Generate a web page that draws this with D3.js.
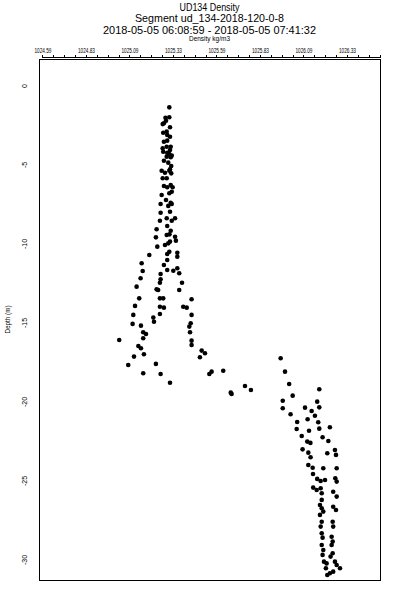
<!DOCTYPE html>
<html lang="en">
<head>
	<meta charset="utf-8">
	<title>UD134 Density</title>
	<script src="https://d3js.org/d3.v7.min.js" charset="utf-8"></script>
	<style>
		body {
			margin: 0;
			background: #fff;
			font-family: "Liberation Sans", Arial, sans-serif;
		}
	</style>
</head>
<body>
	<script>
	// chart values
	var density = [
		1025.314, 1025.314, 1025.295, 1025.283, 1025.276, 1025.318, 1025.279, 1025.299, 1025.302, 1025.318,
		1025.283, 1025.302, 1025.322, 1025.276, 1025.279, 1025.302, 1025.314, 1025.322, 1025.283, 1025.308,
		1025.325, 1025.270, 1025.289, 1025.314, 1025.325, 1025.318, 1025.276, 1025.283, 1025.302, 1025.322,
		1025.333, 1025.314, 1025.270, 1025.295, 1025.322, 1025.308, 1025.328, 1025.264, 1025.318, 1025.264,
		1025.299, 1025.328, 1025.347, 1025.260, 1025.302, 1025.241, 1025.322, 1025.299, 1025.315, 1025.237,
		1025.347, 1025.352, 1025.318, 1025.245, 1025.289, 1025.314, 1025.302, 1025.360, 1025.360, 1025.199,
		1025.302, 1025.155, 1025.283, 1025.161, 1025.302, 1025.337, 1025.360, 1025.371, 1025.264, 1025.149,
		1025.264, 1025.260, 1025.387, 1025.126, 1025.250, 1025.371, 1025.141, 1025.260, 1025.442,
		1025.299, 1025.318, 1025.328, 1025.299, 1025.299, 1025.292, 1025.328, 1025.308,
		1025.241, 1025.279, 1025.117, 1025.260, 1025.283, 1025.394, 1025.414, 1025.107, 1025.260, 1025.442,
		1025.222, 1025.226, 1025.103, 1025.151, 1025.437, 1025.429, 1025.164, 1025.180, 1025.164, 1025.433,
		1025.026, 1025.442, 1025.442, 1025.136, 1025.151, 1025.111, 1025.168, 1025.500, 1025.519, 1025.490,
		1025.078, 1025.237, 1025.164, 1025.264, 1025.318, 1025.544, 1025.557, 1025.624, 1025.954, 1025.979,
		1026.003, 1025.667, 1025.672, 1025.749, 1025.783,
		1026.176, 1026.023, 1025.966, 1026.164, 1025.966, 1026.176, 1026.094, 1026.132, 1026.151, 1026.011,
		1026.049, 1026.109, 1026.170, 1026.046, 1026.117, 1026.176, 1026.237, 1026.075, 1026.195, 1026.107,
		1026.125, 1026.228, 1026.080, 1026.113, 1026.126, 1026.222, 1026.266, 1026.272, 1026.113, 1026.138,
		1026.199, 1026.276, 1026.140, 1026.164, 1026.184, 1026.209, 1026.268, 1026.276, 1026.141, 1026.161,
		1026.184, 1026.190, 1026.256, 1026.276, 1026.190, 1026.180, 1026.190, 1026.256, 1026.272, 1026.180,
		1026.199, 1026.190, 1026.184, 1026.253, 1026.256, 1026.190, 1026.195, 1026.247, 1026.253, 1026.190,
		1026.247, 1026.199, 1026.195, 1026.253, 1026.241, 1026.203, 1026.218, 1026.266, 1026.276, 1026.214,
		1026.295, 1026.222, 1026.237, 1026.256
	];
	var depth = [
		-1.35, -1.98, -2.20, -2.36, -2.41, -2.61, -2.96, -2.89, -3.10, -3.21,
		-3.53, -3.46, -3.84, -3.94, -4.16, -4.22, -4.30, -4.51, -4.73, -4.85,
		-5.06, -5.36, -5.49, -5.36, -5.53, -5.27, -5.84, -6.33, -6.41, -6.27,
		-6.41, -6.79, -6.90, -7.22, -7.39, -7.59, -7.47, -7.47, -7.96, -8.02,
		-8.37, -8.53, -8.37, -8.53, -8.86, -9.07, -9.16, -9.43, -9.39, -9.58,
		-9.54, -9.79, -9.85, -10.17, -10.06, -10.49, -10.63, -10.55, -10.80, -10.70,
		-11.01, -11.22, -11.33, -11.71, -11.65, -11.69, -11.54, -11.85, -11.90, -12.17,
		-12.23, -12.45, -12.45, -12.70, -12.91, -12.91, -13.44, -13.44, -13.50,
		-3.84, -4.05, -4.40, -4.47, -5.84, -2.01, -6.69, -9.96,
		-12.87, -13.44, -13.92, -13.97, -14.03, -13.97, -14.03, -14.49, -14.43, -14.49,
		-14.66, -14.92, -15.06, -15.17, -15.02, -15.23, -15.59, -15.70, -15.97, -15.59,
		-16.08, -16.12, -16.39, -16.46, -16.60, -17.13, -16.98, -16.75, -16.92, -17.17,
		-17.66, -17.59, -18.18, -18.23, -18.78, -18.23, -18.08, -18.02, -17.23, -18.08,
		-18.86, -19.41, -19.49, -18.99, -19.24,
		-19.20, -19.60, -19.92, -19.98, -20.40, -20.34, -20.36, -20.57, -20.87, -20.78,
		-21.27, -21.09, -21.28, -21.71, -21.82, -21.69, -21.60, -22.15, -22.23, -22.51,
		-22.59, -22.47, -23.00, -23.21, -23.50, -23.25, -23.04, -23.35, -23.99, -24.16,
		-24.20, -24.20, -24.56, -24.87, -25.00, -24.94, -24.83, -25.04, -25.42, -25.57,
		-25.46, -25.78, -25.68, -25.99, -26.20, -26.52, -26.73, -26.63, -26.84, -27.15,
		-26.94, -27.58, -27.89, -27.58, -27.89, -28.31, -28.59, -28.53, -28.84, -29.05,
		-29.05, -29.37, -29.68, -29.58, -29.79, -30.11, -30.22, -30.11, -30.32, -30.53,
		-30.53, -30.95, -30.84, -30.74
	];

	// axis ticks
	var xMajorTicks = [1024.585, 1024.835, 1025.085, 1025.335, 1025.585, 1025.835, 1026.085, 1026.335];
	var xTickLabels = ["1024.59", "1024.83", "1025.09", "1025.33", "1025.59", "1025.83", "1026.09", "1026.33"];
	var xMinorStep = 0.0625;
	var yTicks = [0, -5, -10, -15, -20, -25, -30];

	var titleLines = ["UD134 Density", "Segment ud_134-2018-120-0-8", "2018-05-05 06:08:59 - 2018-05-05 07:41:32"];
	var xLabel = "Density kg/m3";
	var yLabel = "Depth (m)";

	var width = 400;
	var height = 600;

	var svg = d3.select("body")
		.append("svg")
		.attr("width", width)
		.attr("height", height);

	var x = d3.scaleLinear()
		.domain([1024.565, 1026.525])
		.range([39, 380]);

	var y = d3.scaleLinear()
		.domain([1.71, -31.27])
		.range([59, 580]);

	// titles
	var titleSizes = [10, 10.5, 10.5];
	var titleY = [11, 22, 33.5];
	var titleLen = [60, 149, 213];
	svg.selectAll(".title")
		.data(titleLines)
		.enter()
		.append("text")
		.attr("class", "title")
		.attr("x", (x.range()[0] + x.range()[1]) / 2)
		.attr("y", function(d, i) { return titleY[i]; })
		.attr("text-anchor", "middle")
		.attr("font-size", function(d, i) { return titleSizes[i] + "px"; })
		.attr("textLength", function(d, i) { return titleLen[i]; })
		.attr("lengthAdjust", "spacingAndGlyphs")
		.text(function(d) { return d; });

	svg.append("text")
		.attr("x", (x.range()[0] + x.range()[1]) / 2)
		.attr("y", 41)
		.attr("text-anchor", "middle")
		.attr("font-size", "7px")
		.attr("textLength", 41)
		.attr("lengthAdjust", "spacingAndGlyphs")
		.text(xLabel);

	// top axis, with minor ticks between the labelled ones
	var minorTicks = [];
	for (var v = xMajorTicks[0]; v <= x.domain()[1] + 1e-9; v += xMinorStep) {
		minorTicks.push(+v.toFixed(4));
	}

	var xAxis = d3.axisTop(x)
		.tickValues(minorTicks)
		.tickSize(3)
		.tickPadding(1.5)
		.tickFormat(function(d) {
			var k = xMajorTicks.findIndex(function(t) { return Math.abs(t - d) < 1e-6; });
			return k >= 0 ? xTickLabels[k] : "";
		});

	var gx = svg.append("g")
		.attr("transform", "translate(0,57.5)")
		.call(xAxis);
	gx.select(".domain").remove();
	gx.selectAll(".tick line").attr("stroke", "#000").attr("shape-rendering", "crispEdges");
	gx.selectAll(".tick text")
		.attr("font-family", "'Liberation Sans', Arial, sans-serif")
		.attr("font-size", "7.5px")
		.attr("fill", "#000")
		.filter(function() { return this.textContent !== ""; })
		.attr("textLength", 17)
		.attr("lengthAdjust", "spacingAndGlyphs");
	gx.append("line")
		.attr("x1", x(minorTicks[0]))
		.attr("x2", x(minorTicks[minorTicks.length - 1]))
		.attr("y1", 0)
		.attr("y2", 0)
		.attr("stroke", "#000")
		.attr("shape-rendering", "crispEdges");

	// left labels, no tick marks
	svg.selectAll(".ylab")
		.data(yTicks)
		.enter()
		.append("text")
		.attr("class", "ylab")
		.attr("transform", function(d) { return "translate(26.5," + y(d) + ") rotate(-90)"; })
		.attr("text-anchor", "middle")
		.attr("font-size", "7px")
		.text(function(d) { return d; });

	svg.append("text")
		.attr("transform", "translate(10," + ((y.range()[0] + y.range()[1]) / 2) + ") rotate(-90)")
		.attr("text-anchor", "middle")
		.attr("font-size", "6.5px")
		.attr("textLength", 28)
		.attr("lengthAdjust", "spacingAndGlyphs")
		.text(yLabel);

	// plot frame
	svg.append("rect")
		.attr("x", x.range()[0] + 0.5)
		.attr("y", y.range()[0] + 0.5)
		.attr("width", x.range()[1] - x.range()[0])
		.attr("height", y.range()[1] - y.range()[0])
		.attr("fill", "none")
		.attr("stroke", "#000")
		.attr("shape-rendering", "crispEdges");

	// points
	var points = density.map(function(d, i) { return { density: d, depth: depth[i] }; });

	svg.append("g")
		.selectAll("circle")
		.data(points)
		.enter()
		.append("circle")
		.attr("cx", function(d) { return x(d.density); })
		.attr("cy", function(d) { return y(d.depth); })
		.attr("r", 2.3)
		.attr("fill", "#000");
	</script>
</body>
</html>
